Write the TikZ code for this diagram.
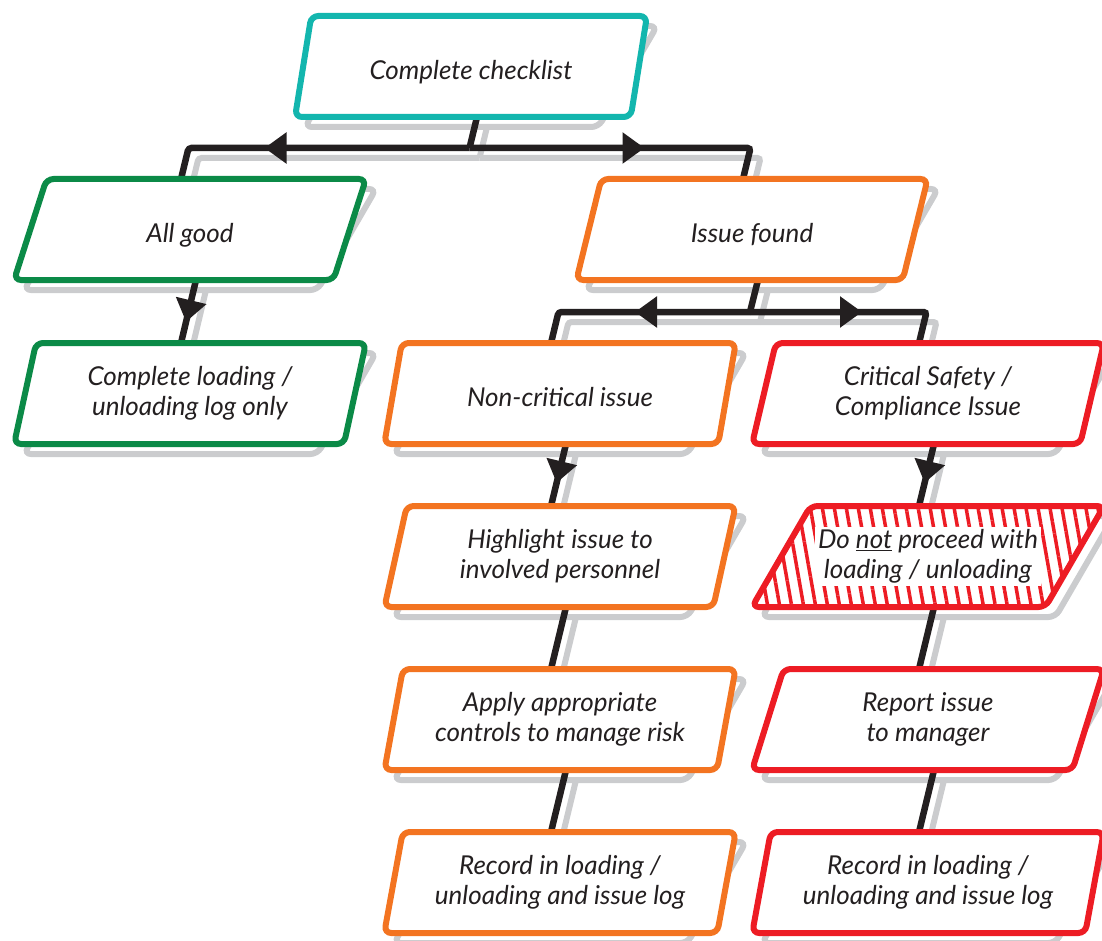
\documentclass[tikz,border=0pt]{standalone}
\usepackage{fontspec}
\setmainfont{Lato}
\usetikzlibrary{shapes.geometric,patterns.meta,decorations.markings,arrows.meta}

\definecolor{checkteal}{HTML}{13B6AE}
\definecolor{goodgreen}{HTML}{0B8A47}
\definecolor{issueorange}{HTML}{F37421}
\definecolor{criticalred}{HTML}{ED1C24}
\definecolor{shadowgrey}{HTML}{CBCCCE}
\definecolor{inkdark}{HTML}{231F20}

\pgfdeclarelayer{shade}
\pgfdeclarelayer{lines}
\pgfsetlayers{shade,lines,main}

\tikzset{
  boxtext/.style={text=inkdark, align=center,
    font=\itshape\fontsize{26}{30}\selectfont},
  flowbox/.style={trapezium, trapezium left angle=76, trapezium right angle=104,
    trapezium stretches=true, minimum width=352pt, minimum height=101pt,
    outer sep=0pt, rounded corners=7pt, line width=6pt,
    draw=#1, fill=white, boxtext},
  flowbox/.default=black,
  oneline/.style={text height=31pt, text depth=5pt},
  link/.style={line width=6.5pt, draw=inkdark, rounded corners=3pt,
    preaction={draw=shadowgrey, line width=6pt, transform canvas={shift={(10pt,-10pt)}}}},
  tipat/.style={postaction={decorate}, decoration={markings,
    mark=at position #1 with {\arrow{Triangle[length=22pt,width=30pt]}}}}
}

\begin{document}
\begin{tikzpicture}[x=1pt,y=-1pt]
  \useasboundingbox (0,0) rectangle (1102,941);

  % boxes
  \node[flowbox=checkteal, oneline] (check) at (471,66.5) {Complete checklist};
  \node[flowbox=goodgreen, oneline] (good) at (190,229.5) {All good};
  \node[flowbox=issueorange, oneline] (found) at (752,229.5) {Issue found};
  \node[flowbox=goodgreen] (logonly) at (190,393.5) {Complete loading /\\unloading log only};
  \node[flowbox=issueorange, oneline] (noncrit) at (560,393.5) {Non-critical issue};
  \node[flowbox=criticalred] (crit) at (928,393.5) {Critical Safety /\\Compliance Issue};
  \node[flowbox=issueorange] (highlight) at (560,556.5) {Highlight issue to\\involved personnel};
  \node[flowbox=criticalred, preaction={fill=white},
    pattern={Lines[angle=100,distance=11.8pt,line width=3.5pt]}, pattern color=criticalred,
    label={[boxtext, fill=white, inner sep=3pt]center:Do \underline{not} proceed with\\loading / unloading}]
    (donot) at (928,556.5) {};
  \node[flowbox=issueorange] (apply) at (560,719.5) {Apply appropriate\\controls to manage risk};
  \node[flowbox=criticalred] (report) at (928,719.5) {Report issue\\to manager};
  \node[flowbox=issueorange] (recordnc) at (560,882.5) {Record in loading /\\unloading and issue log};
  \node[flowbox=criticalred] (recordc) at (928,882.5) {Record in loading /\\unloading and issue log};

  % forks of the two splits
  \coordinate (fork1) at (469.5,148);
  \coordinate (fork1l) at (188.5,148);
  \coordinate (fork1r) at (750.5,148);
  \coordinate (fork2) at (750,312);
  \coordinate (fork2l) at (558.5,312);
  \coordinate (fork2r) at (926.5,312);

  \begin{pgfonlayer}{shade}
    \foreach \n in {check,good,found,logonly,noncrit,crit,highlight,donot,apply,report,recordnc,recordc}
      \node[flowbox=shadowgrey, fill=none] (\n-shade) at ([shift={(10pt,-10pt)}]\n.center) {};
  \end{pgfonlayer}

  \begin{pgfonlayer}{lines}
    \draw[link] ([xshift=6pt]check.south) -- (fork1);
    \draw[link, tipat=205pt] (fork1) -- (fork1l) -- ([xshift=-9pt]good.north);
    \draw[link, tipat=175pt] (fork1) -- (fork1r) -- ([xshift=-9pt]found.north);
    \draw[link, tipat=43pt] ([xshift=6pt]good.south) -- ([xshift=-9pt]logonly.north);
    \draw[link] ([xshift=6pt]found.south) -- (fork2);
    \draw[link, tipat=115pt] (fork2) -- (fork2l) -- ([xshift=-9pt]noncrit.north);
    \draw[link, tipat=112pt] (fork2) -- (fork2r) -- ([xshift=-9pt]crit.north);
    \draw[link, tipat=40pt] ([xshift=6pt]noncrit.south) -- ([xshift=-9pt]highlight.north);
    \draw[link, tipat=40pt] ([xshift=6pt]crit.south) -- ([xshift=-9pt]donot.north);
    \draw[link] ([xshift=6pt]highlight.south) -- ([xshift=-9pt]apply.north);
    \draw[link] ([xshift=6pt]donot.south) -- ([xshift=-9pt]report.north);
    \draw[link] ([xshift=6pt]apply.south) -- ([xshift=-9pt]recordnc.north);
    \draw[link] ([xshift=6pt]report.south) -- ([xshift=-9pt]recordc.north);
  \end{pgfonlayer}
\end{tikzpicture}
\end{document}
